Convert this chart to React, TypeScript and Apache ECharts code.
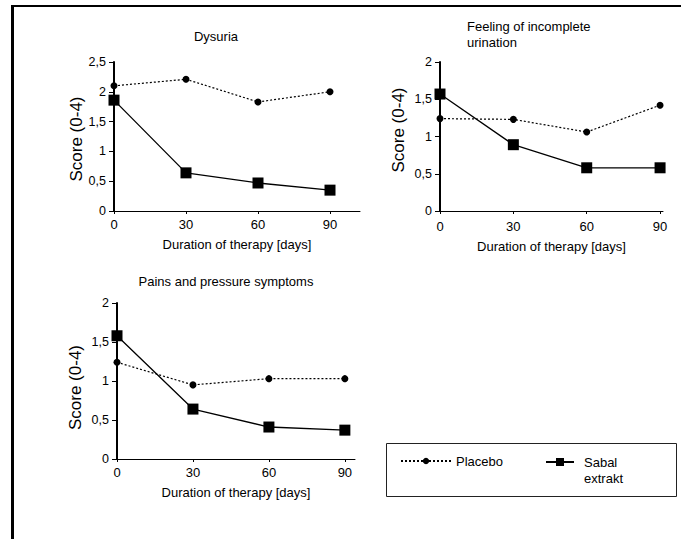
import React, { useEffect, useRef } from "react";
import * as echarts from "echarts";

const days = [0, 30, 60, 90];
const xTickValues = [0, 30, 60, 90];

const dysuriaPlacebo = [2.1, 2.21, 1.83, 2.0];
const dysuriaSabal = [1.86, 0.64, 0.47, 0.35];
const incompletePlacebo = [1.24, 1.23, 1.06, 1.42];
const incompleteSabal = [1.57, 0.89, 0.58, 0.58];
const painsPlacebo = [1.24, 0.95, 1.03, 1.03];
const painsSabal = [1.58, 0.64, 0.41, 0.37];

const panelTitles = ["Dysuria", "Feeling of incomplete\nurination", "Pains and pressure symptoms"];
const yMaxes = [2.5, 2, 2];
const xMaxes = [102.5, 91.2, 94];
const seriesNames = ["Placebo", "Sabal extrakt"];
const yAxisName = "Score (0-4)";
const xAxisName = "Duration of therapy [days]";

const FONT = "Liberation Sans, Arial, Helvetica, sans-serif";

const grids = [
  { left: 114, top: 62, width: 246, height: 149 },
  { left: 440, top: 62, width: 223, height: 149 },
  { left: 117, top: 303, width: 238, height: 156 },
];
const yNameGaps = [27, 33.5, 33.5];
const yNamePads = [
  [0, 5, 0, 0],
  [0, 0, 0, 13],
  [0, 13, 0, 0],
];
const xOuterTick = [false, true, true];
const xLabelMargins = [6.5, 8.5, 6.5];
const xNameGaps = [27, 29, 27];

const pairs = (ys: number[]) => days.map((d, i) => [d, ys[i]]);

export default function App() {
  const ref = useRef<HTMLDivElement>(null);
  useEffect(() => {
    document.body.style.margin = "0";
    if (!ref.current) return;
    const chart = echarts.init(ref.current, null, { renderer: "svg" });

    const xMain = grids.map((_, i) => ({
      type: "value",
      gridIndex: i,
      min: 0,
      max: xMaxes[i],
      axisLine: { show: true, lineStyle: { color: "#000", width: 1 } },
      axisTick: { show: xOuterTick[i], length: 3, customValues: xTickValues, lineStyle: { color: "#000" } },
      axisLabel: {
        show: true,
        customValues: xTickValues,
        color: "#000",
        fontSize: 13,
        fontFamily: FONT,
        margin: xLabelMargins[i],
      },
      splitLine: { show: false },
      name: xAxisName,
      nameLocation: "middle",
      nameGap: xNameGaps[i],
      nameTextStyle: { color: "#000", fontSize: 13, fontFamily: FONT },
    }));
    const xDup = grids.map((_, i) => ({
      type: "value",
      gridIndex: i,
      min: 0,
      max: xMaxes[i],
      axisLine: { show: false },
      axisTick: { show: true, inside: true, length: 3, customValues: xTickValues, lineStyle: { color: "#000" } },
      axisLabel: { show: false },
      splitLine: { show: false },
    }));
    const yMain = grids.map((_, i) => ({
      type: "value",
      gridIndex: i,
      min: 0,
      max: yMaxes[i],
      interval: 0.5,
      axisLine: { show: true, lineStyle: { color: "#000", width: 2 } },
      axisTick: { show: true, length: 5, lineStyle: { color: "#000" } },
      axisLabel: {
        color: "#000",
        fontSize: 12.5,
        fontFamily: FONT,
        margin: 8,
        formatter: (v: number) => String(v).replace(".", ","),
      },
      splitLine: { show: false },
      name: yAxisName,
      nameLocation: "middle",
      nameGap: yNameGaps[i],
      nameTextStyle: { color: "#000", fontSize: 17, fontFamily: FONT, padding: yNamePads[i] },
    }));
    const yDup = grids.map((_, i) => ({
      type: "value",
      gridIndex: i,
      min: 0,
      max: yMaxes[i],
      interval: 0.5,
      axisLine: { show: false },
      axisTick: { show: true, inside: true, length: 3, lineStyle: { color: "#000" } },
      axisLabel: { show: false },
      splitLine: { show: false },
    }));

    const placeboData = [dysuriaPlacebo, incompletePlacebo, painsPlacebo];
    const sabalData = [dysuriaSabal, incompleteSabal, painsSabal];
    const series: any[] = [];
    grids.forEach((_, i) => {
      series.push({
        type: "line",
        name: seriesNames[0],
        xAxisIndex: i,
        yAxisIndex: i,
        data: pairs(placeboData[i]),
        symbol: "circle",
        symbolSize: 7,
        itemStyle: { color: "#000" },
        lineStyle: { color: "#000", width: 1.2, type: [2, 2] },
        z: 2,
      });
      series.push({
        type: "line",
        name: seriesNames[1],
        xAxisIndex: i,
        yAxisIndex: i,
        data: pairs(sabalData[i]),
        symbol: "rect",
        symbolSize: 11,
        itemStyle: { color: "#000" },
        lineStyle: { color: "#000", width: 1.3, type: "solid" },
        z: 3,
      });
    });

    const option: any = {
      animation: false,
      backgroundColor: "#fff",
      title: [
        {
          text: panelTitles[0],
          left: 216,
          top: 30,
          textAlign: "center",
          padding: 0,
          textStyle: { color: "#000", fontSize: 13, fontWeight: "normal", fontFamily: FONT },
        },
        {
          text: panelTitles[1],
          left: 467,
          top: 18,
          padding: 0,
          textStyle: { color: "#000", fontSize: 13, fontWeight: "normal", fontFamily: FONT, lineHeight: 16 },
        },
        {
          text: panelTitles[2],
          left: 226,
          top: 275,
          textAlign: "center",
          padding: 0,
          textStyle: { color: "#000", fontSize: 13, fontWeight: "normal", fontFamily: FONT },
        },
      ],
      grid: grids.map((g) => ({ ...g, containLabel: false, outerBoundsMode: "none" })),
      xAxis: [...xMain, ...xDup],
      yAxis: [...yMain, ...yDup],
      legend: [
        {
          data: [seriesNames[0]],
          left: 400,
          top: 454.5,
          padding: 0,
          itemWidth: 50,
          itemHeight: 8,
          selectedMode: false,
          textStyle: { color: "#000", fontSize: 13, fontFamily: FONT },
        },
        {
          data: [seriesNames[1]],
          left: 545,
          top: 438,
          padding: 0,
          itemWidth: 28,
          itemHeight: 10,
          selectedMode: false,
          formatter: () => "\u00a0\nSabal\nextrakt",
          textStyle: {
            color: "#000",
            fontSize: 13,
            fontFamily: FONT,
            lineHeight: 16,
            padding: [0, 0, 0, 5],
          },
        },
      ],
      graphic: [
        { type: "rect", shape: { x: 11, y: 5, width: 3, height: 540 }, style: { fill: "#000" }, silent: true },
        { type: "rect", shape: { x: 11, y: 5, width: 680, height: 2 }, style: { fill: "#000" }, silent: true },
        {
          type: "rect",
          shape: { x: 386.5, y: 443.5, width: 290, height: 53 },
          style: { fill: "none", stroke: "#222", lineWidth: 1 },
          silent: true,
        },
      ],
      series,
    };
    chart.setOption(option);
    return () => chart.dispose();
  }, []);
  return <div ref={ref} style={{ width: 681, height: 539 }} />;
}
